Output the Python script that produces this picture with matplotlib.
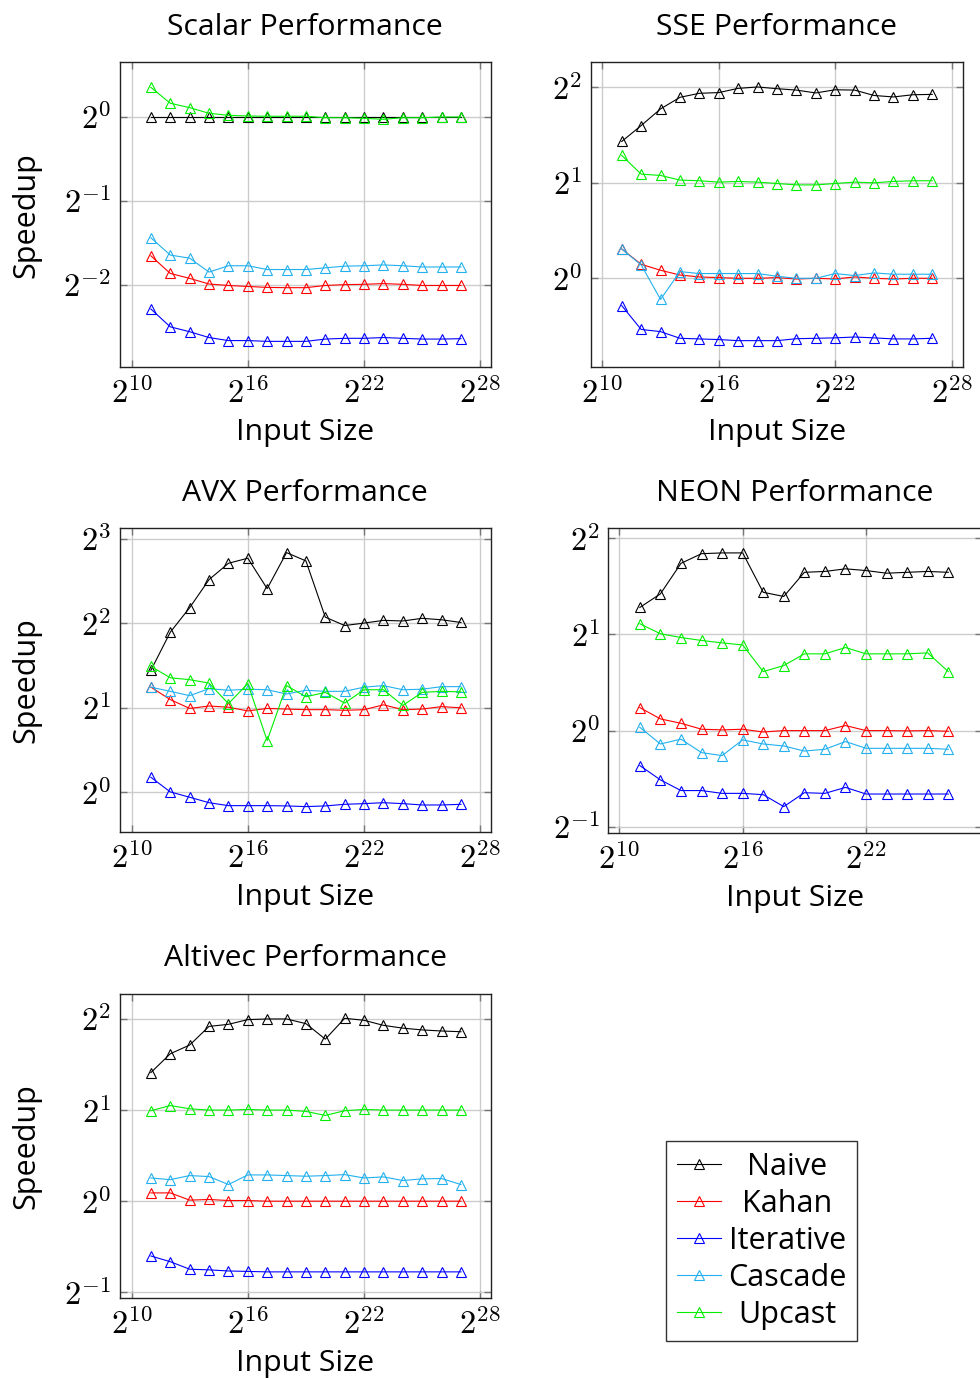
import math
import matplotlib
matplotlib.use("Agg")
import matplotlib.pyplot as plt
from matplotlib.ticker import FixedLocator, FuncFormatter, NullLocator

plt.rcParams["font.family"] = ["Open Sans", "DejaVu Sans"]
plt.rcParams["mathtext.fontset"] = "cm"

methods = ["Naive", "Kahan", "Iterative", "Cascade", "Upcast"]
colors = {"Naive": "black", "Kahan": "#ff0000", "Iterative": "#0000ff",
          "Cascade": "#22b0ee", "Upcast": "#00ee00"}

# input sizes (powers of two)
sizes_17 = [2 ** e for e in range(11, 28)]
sizes_16 = [2 ** e for e in range(11, 27)]

# speedup per method, per platform
scalar = {
    "Naive": [1.0, 1.0, 1.0, 1.0, 1.0, 1.0, 1.0, 1.0, 1.0, 1.0, 1.0, 1.0, 1.0, 1.0, 1.0, 1.0, 1.0],
    "Kahan": [0.318, 0.275, 0.264, 0.252, 0.249, 0.247, 0.245, 0.2445, 0.2445, 0.249, 0.2507, 0.2514, 0.2528, 0.2514, 0.249, 0.249, 0.249],
    "Iterative": [0.205, 0.177, 0.170, 0.162, 0.158, 0.158, 0.157, 0.157, 0.157, 0.160, 0.161, 0.161, 0.162, 0.161, 0.160, 0.160, 0.1605],
    "Cascade": [0.369, 0.320, 0.312, 0.278, 0.293, 0.293, 0.284, 0.284, 0.284, 0.288, 0.292, 0.293, 0.295, 0.293, 0.290, 0.290, 0.290],
    "Upcast": [1.277, 1.120, 1.080, 1.031, 1.014, 1.008, 1.006, 1.006, 1.006, 0.994, 0.994, 0.989, 0.981, 0.994, 0.994, 1.0, 1.0],
}
sse = {
    "Naive": [2.70, 3.03, 3.42, 3.72, 3.83, 3.85, 3.97, 4.01, 3.96, 3.92, 3.84, 3.93, 3.92, 3.77, 3.73, 3.79, 3.80],
    "Kahan": [1.237, 1.107, 1.060, 1.024, 1.010, 1.005, 1.0, 1.0, 1.005, 0.995, 1.0, 0.995, 1.010, 1.0, 0.995, 1.0, 1.0],
    "Iterative": [0.820, 0.690, 0.679, 0.647, 0.644, 0.641, 0.636, 0.636, 0.636, 0.645, 0.647, 0.649, 0.653, 0.649, 0.644, 0.644, 0.647],
    "Cascade": [1.237, 1.102, 0.858, 1.050, 1.035, 1.035, 1.035, 1.035, 1.015, 1.0, 1.0, 1.035, 1.020, 1.040, 1.030, 1.030, 1.030],
    "Upcast": [2.44, 2.13, 2.11, 2.04, 2.03, 2.01, 2.02, 2.01, 1.99, 1.97, 1.97, 1.99, 2.01, 2.00, 2.02, 2.03, 2.03],
}
avx = {
    "Naive": [2.72, 3.72, 4.55, 5.73, 6.55, 6.83, 5.32, 7.15, 6.68, 4.21, 3.93, 4.01, 4.10, 4.08, 4.17, 4.12, 4.03],
    "Kahan": [2.37, 2.14, 1.99, 2.03, 2.01, 1.95, 1.99, 1.98, 1.97, 1.97, 1.96, 1.97, 2.05, 1.97, 1.98, 2.02, 2.00],
    "Iterative": [1.131, 1.003, 0.960, 0.918, 0.896, 0.896, 0.896, 0.894, 0.889, 0.894, 0.906, 0.911, 0.918, 0.911, 0.901, 0.901, 0.906],
    "Cascade": [2.37, 2.29, 2.21, 2.34, 2.31, 2.33, 2.32, 2.24, 2.31, 2.29, 2.29, 2.37, 2.40, 2.32, 2.33, 2.38, 2.38],
    "Upcast": [2.81, 2.56, 2.52, 2.45, 2.07, 2.44, 1.529, 2.40, 2.19, 2.27, 2.08, 2.32, 2.32, 2.04, 2.27, 2.29, 2.28],
}
neon = {
    "Naive": [2.43, 2.68, 3.34, 3.58, 3.60, 3.60, 2.71, 2.63, 3.13, 3.15, 3.21, 3.17, 3.11, 3.13, 3.15, 3.13],
    "Kahan": [1.180, 1.088, 1.054, 1.010, 1.005, 1.010, 0.990, 1.0, 1.0, 1.0, 1.037, 1.0, 1.0, 0.998, 1.0, 0.995],
    "Iterative": [0.777, 0.701, 0.649, 0.649, 0.636, 0.636, 0.630, 0.578, 0.639, 0.636, 0.664, 0.633, 0.633, 0.633, 0.633, 0.633],
    "Cascade": [1.024, 0.908, 0.940, 0.853, 0.835, 0.935, 0.908, 0.895, 0.863, 0.874, 0.924, 0.880, 0.880, 0.880, 0.880, 0.874],
    "Upcast": [2.16, 2.01, 1.956, 1.915, 1.882, 1.854, 1.530, 1.598, 1.739, 1.739, 1.820, 1.739, 1.739, 1.739, 1.751, 1.530],
}
altivec = {
    "Naive": [2.66, 3.07, 3.28, 3.78, 3.84, 3.98, 4.0, 4.0, 3.86, 3.43, 4.02, 3.96, 3.81, 3.73, 3.68, 3.65, 3.63],
    "Kahan": [1.065, 1.065, 1.008, 1.013, 1.005, 1.005, 1.0, 1.0, 1.0, 1.0, 1.0, 1.0, 1.0, 1.0, 1.0, 1.0, 1.0],
    "Iterative": [0.659, 0.631, 0.596, 0.593, 0.588, 0.586, 0.584, 0.584, 0.584, 0.584, 0.584, 0.584, 0.584, 0.584, 0.584, 0.584, 0.584],
    "Cascade": [1.193, 1.178, 1.215, 1.206, 1.135, 1.221, 1.221, 1.215, 1.209, 1.215, 1.224, 1.193, 1.203, 1.170, 1.185, 1.188, 1.135],
    "Upcast": [1.99, 2.07, 2.02, 2.0, 2.0, 2.01, 2.0, 2.0, 1.98, 1.92, 1.99, 2.01, 2.0, 2.0, 2.0, 2.0, 2.0],
}

W, H = 980, 1378
fig = plt.figure(figsize=(W / 100, H / 100), dpi=100)


def make_axes(left, right, top, bottom):
    return fig.add_axes([left / W, 1 - bottom / H, (right - left) / W, (bottom - top) / H])


def pow2(v, pos):
    return r"$2^{%d}$" % round(math.log2(v))


panels = [
    ("Scalar Performance", scalar, sizes_17, (119.5, 491, 62.3, 367.3), (9.38, 28.55), (-2.98, 0.651), [10, 16, 22, 28], [-2, -1, 0], True),
    ("SSE Performance", sse, sizes_17, (590.7, 962.7, 62.3, 367.3), (9.40, 28.57), (-0.932, 2.262), [10, 16, 22, 28], [0, 1, 2], False),
    ("AVX Performance", avx, sizes_17, (119.5, 491, 528.3, 832.3), (9.38, 28.55), (-0.474, 3.126), [10, 16, 22, 28], [0, 1, 2, 3], True),
    ("NEON Performance", neon, sizes_16, (608.3, 982, 528.3, 832.7), (9.465, 27.64), (-1.062, 2.104), [10, 16, 22], [-1, 0, 1, 2], False),
    ("Altivec Performance", altivec, sizes_17, (119.5, 491, 994, 1298.3), (9.38, 28.55), (-1.066, 2.274), [10, 16, 22, 28], [-1, 0, 1, 2], True),
]

for title, data, sizes, box, xl, yl, xt, yt, ylab in panels:
    ax = make_axes(*box)
    for m in methods:
        ax.plot(sizes, data[m], color=colors[m], lw=0.8, marker="^", ms=7.5,
                mfc="none", mec=colors[m], mew=0.8, label=m)
    ax.set_xscale("log", base=2)
    ax.set_yscale("log", base=2)
    ax.set_xlim(2 ** xl[0], 2 ** xl[1])
    ax.set_ylim(2 ** yl[0], 2 ** yl[1])
    ax.xaxis.set_major_locator(FixedLocator([2 ** e for e in xt]))
    ax.yaxis.set_major_locator(FixedLocator([2.0 ** e for e in yt]))
    ax.xaxis.set_minor_locator(NullLocator())
    ax.yaxis.set_minor_locator(NullLocator())
    ax.xaxis.set_major_formatter(FuncFormatter(pow2))
    ax.yaxis.set_major_formatter(FuncFormatter(pow2))
    ax.tick_params(direction="in", length=5, width=1, color="#777777",
                   top=True, right=True, labelsize=23.5)
    ax.tick_params(axis="x", pad=8)
    ax.tick_params(axis="y", pad=6)
    ax.grid(True, color="#cccccc", lw=1)
    ax.set_axisbelow(True)
    for s in ax.spines.values():
        s.set_linewidth(1)
        s.set_color("#222222")
    ax.set_title(title, fontsize=21.8, pad=20)
    ax.set_xlabel("Input Size", fontsize=21.8, labelpad=5)
    if ylab:
        ax.set_ylabel("Speedup", fontsize=22)
        ax.yaxis.set_label_coords((41 - box[0]) / (box[1] - box[0]), 0.5)

handles, labels = fig.axes[0].get_legend_handles_labels()
leg = fig.legend(handles, labels, loc="upper left",
                 bbox_to_anchor=(666 / W, 1 - 1141 / H), fontsize=22,
                 frameon=True, fancybox=False, edgecolor="black",
                 handlelength=1.45, handletextpad=0.23, labelspacing=0.23,
                 borderpad=0.35, borderaxespad=0)
leg.get_frame().set_linewidth(1)

# centre the legend labels in their column, like the original
renderer = fig.canvas.get_renderer()
texts = leg.get_texts()
widths = [t.get_window_extent(renderer).width for t in texts]
widest = max(widths)
for t, w in zip(texts, widths):
    t.set_position(((widest - w) / 2, 0))

fig.savefig("out.png", dpi=100)
